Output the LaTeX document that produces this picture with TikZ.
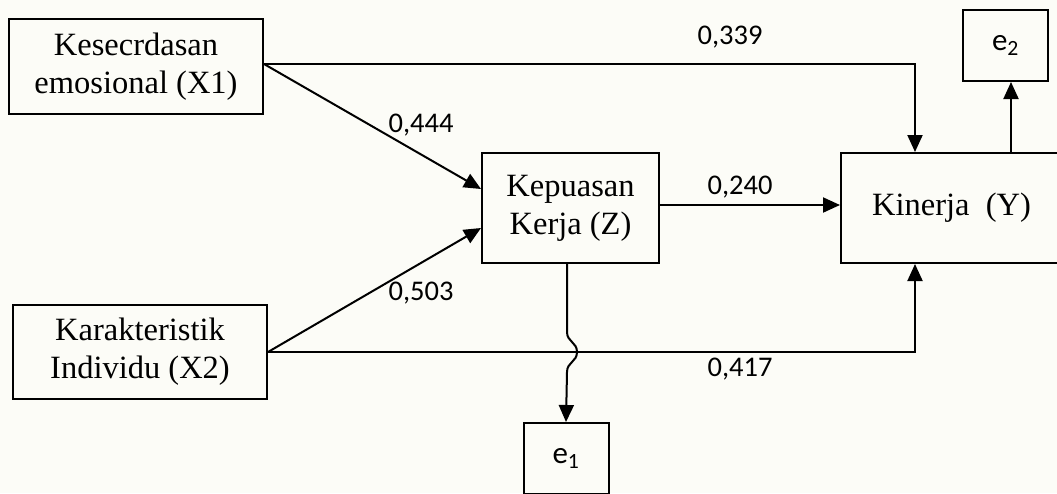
\documentclass[tikz,border=0pt]{standalone}
\usepackage{fontspec}
\setmainfont{Liberation Serif}
\newfontfamily\numfont{Carlito}
\usetikzlibrary{arrows.meta,calc}
\definecolor{paper}{RGB}{252,252,247}
\begin{document}
\begin{tikzpicture}[x=1pt,y=-1pt,
  varbox/.style={draw,line width=2pt,align=center,inner sep=0pt,
    font=\fontsize{32.5}{38}\selectfont},
  errbox/.style={draw,line width=2pt,minimum width=85pt,minimum height=71pt,
    inner sep=0pt,font=\numfont\fontsize{31}{34}\selectfont},
  coef/.style={font=\numfont\fontsize{28.5}{32}\selectfont,inner sep=0pt},
  path/.style={line width=2pt,-{Triangle[length=17pt,width=15pt]}}]
\useasboundingbox (0,0) rectangle (1057,493);
\fill[paper] (0,0) rectangle (1057,493);

% latent variables
\node[varbox,minimum width=254pt,minimum height=95pt] (X1) at (136,66.5)
  {Kesecrdasan\\emosional (X1)};
\node[varbox,minimum width=254pt,minimum height=94pt] (X2) at (140,352)
  {Karakteristik\\Individu (X2)};
\node[varbox,minimum width=177pt,minimum height=110pt] (Z) at (570.5,208)
  {Kepuasan\\Kerja (Z)};
\node[varbox,minimum width=221pt,minimum height=110pt] (Y) at (951.5,208)
  {\raisebox{8pt}{Kinerja\ \ (Y)}};

% error terms
\node[errbox] (e2) at (1005.5,45.5) {e\textsubscript{2}};
\node[errbox] (e1) at (566,458.5) {e\textsubscript{1}};

% direct paths
\draw[path] ([yshift=2.5pt]X1.east) -| ([xshift=-36.5pt]Y.north);
\draw[path] ([yshift=2.5pt]X1.east) -- ([yshift=19pt]Z.west);
\draw[path] (X2.east) -- ([yshift=-20pt]Z.west);
\draw[path] (X2.east) -| ([xshift=-36.5pt]Y.south);
\draw[path] ([yshift=3pt]Z.east) -- ([yshift=3pt]Y.west);

% residual paths
\draw[path] ([xshift=59.5pt]Y.north) -- ([xshift=5.5pt]e2.south);
\coordinate (hop) at ([xshift=-3.5pt]Z.south |- X2.east);
\draw[path] ([xshift=-3.5pt]Z.south) -- ($(hop)+(0,-20)$)
  .. controls ($(hop)+(0,-10)$) and ($(hop)+(10,-10)$) .. ($(hop)+(10,0)$)
  .. controls ($(hop)+(10,10)$) and ($(hop)+(0,10)$) .. ($(hop)+(0,20)$)
  -- (e1.north);

% path coefficients
\node[coef] (c1) at (730,37) {0,339};
\node[coef] (c2) at (421,125) {0,444};
\node[coef] (c3) at (740,187) {0,240};
\node[coef] (c4) at (421,293) {0,503};
\node[coef] (c5) at (740,369) {0,417};
\end{tikzpicture}
\end{document}
